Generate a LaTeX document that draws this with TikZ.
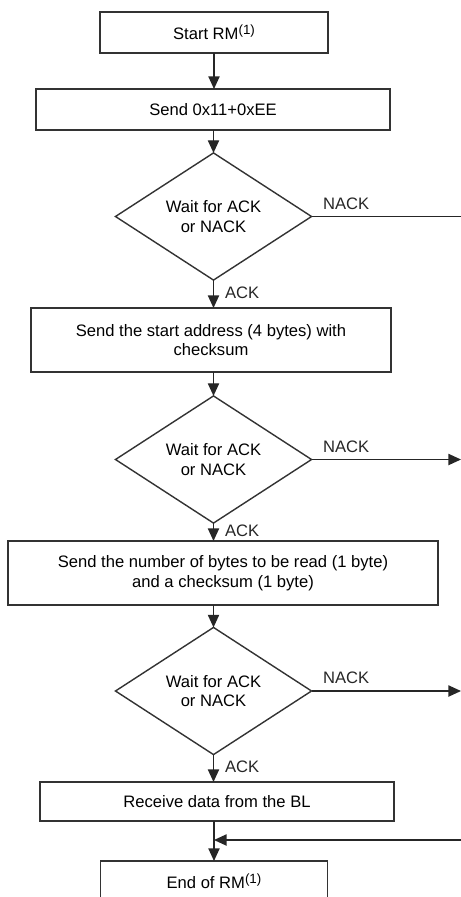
\documentclass[tikz,border=0pt]{standalone}
\usepackage{fontspec}
\setmainfont{Liberation Sans}
\usetikzlibrary{arrows.meta,positioning,shapes.geometric,calc}
\newcommand{\note}[1]{\raisebox{0.55ex}{\fontsize{9.5}{9.5}\selectfont(#1)}}

\begin{document}
\begin{tikzpicture}[
    x=0.025cm, y=-0.025cm,
    block/.style={draw=black!80,line width=1pt,rectangle,minimum height=1.025cm,align=center,inner sep=2pt,outer sep=0pt,font=\fontsize{11.8}{14}\selectfont},
    decision/.style={draw=black!80,line width=1pt,diamond,minimum width=4.9cm,minimum height=2.625cm,inner sep=0pt,outer sep=0pt,align=center,font=\fontsize{11.8}{14}\selectfont},
    arr/.style={-{Triangle[length=9pt,width=8pt]},line width=1pt,black!85},
    link/.style={line width=1pt,black!85},
    ack/.style={font=\fontsize{11.8}{14}\selectfont,inner sep=0pt,right=0.27cm,pos=0.45},
    nack/.style={font=\fontsize{11.8}{14}\selectfont,inner sep=0pt,anchor=south west,at start,xshift=0.27cm,yshift=0.16cm}
  ]
    \useasboundingbox (0,0) rectangle (461,897);
    \coordinate (rim) at (461,0);

    % Block: start of read memory
    \node[block,minimum width=5.7cm] (start) at (214,32.5) {Start RM\note{1}};

    % Block: command + complement
    \node[block,minimum width=8.85cm] (cmd) at (213,109.5) {Send 0x11+0xEE};
    \node[decision] (ack1) at (213.5,216.5) {Wait for ACK\\or NACK};

    % Block: address
    \node[block,minimum width=9cm,minimum height=1.6cm] (addr) at (211,340) {Send the start address (4 bytes) with\\checksum};
    \node[decision] (ack2) at (213.5,459.5) {Wait for ACK\\or NACK};

    % Block: byte count
    \node[block,minimum width=10.75cm,minimum height=1.6cm] (nbytes) at (223,573) {Send the number of bytes to be read (1 byte)\\and a checksum (1 byte)};
    \node[decision] (ack3) at (213.5,691) {Wait for ACK\\or NACK};

    % Block: data + end
    \node[block,minimum width=8.85cm,minimum height=0.975cm] (recv) at (217,801.5) {Receive data from the BL};
    \node[block,minimum width=5.675cm] (stop) at (214,881.5) {End of RM\note{1}};
    \coordinate (join) at (214,840);

    % Main flow
    \draw[arr] (start.south) -- (start.south |- cmd.north);
    \draw[arr] (cmd.south -| ack1) -- (ack1.north);
    \draw[arr] (ack1.south) -- node[ack] {ACK} (ack1.south |- addr.north);
    \draw[arr] (addr.south -| ack2) -- (ack2.north);
    \draw[arr] (ack2.south) -- node[ack] {ACK} (ack2.south |- nbytes.north);
    \draw[arr] (nbytes.south -| ack3) -- (ack3.north);
    \draw[arr] (ack3.south) -- node[ack] {ACK} (ack3.south |- recv.north);
    \draw[arr] (recv.south -| stop) -- (stop.north);

    % NACK branches
    \draw[link] (ack1.east) -- node[nack] {NACK} (ack1.east -| rim);
    \draw[arr] (ack2.east) -- node[nack] {NACK} (ack2.east -| rim);
    \draw[arr] (ack3.east) -- node[nack] {NACK} (ack3.east -| rim);
    \draw[arr] (join -| rim) -- (join);
  \end{tikzpicture}
\end{document}
